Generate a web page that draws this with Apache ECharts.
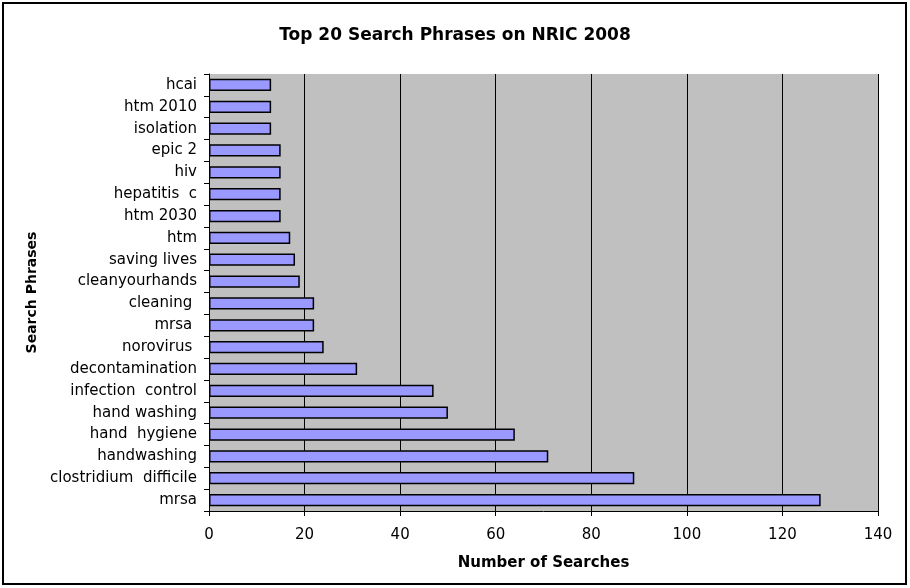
<!DOCTYPE html>
<html>
<head>
<meta charset="utf-8">
<script src="https://cdn.jsdelivr.net/npm/echarts@6/dist/echarts.min.js"></script>
<style>
  html, body { margin: 0; padding: 0; background: #fff; }
  #chart { width: 910px; height: 588px; }
</style>
</head>
<body>
<div id="chart"></div>
<script>
// categories listed bottom -> top, as the axis draws them
const phrases = [
    'mrsa', 'clostridium  difficile', 'handwashing', 'hand  hygiene', 'hand washing',
    'infection  control', 'decontamination', 'norovirus ', 'mrsa ', 'cleaning ',
    'cleanyourhands', 'saving lives', 'htm', 'htm 2030', 'hepatitis  c',
    'hiv', 'epic 2', 'isolation', 'htm 2010', 'hcai'
];
const searches = [128, 89, 71, 64, 50, 47, 31, 24, 22, 22, 19, 18, 17, 15, 15, 15, 15, 13, 13, 13];
const xTicks = [0, 20, 40, 60, 80, 100, 120, 140];

const FONT = 'DejaVu Sans';

const myChart = echarts.init(document.getElementById('chart'));

const option = {
    animation: false,
    backgroundColor: '#fff',
    title: {
        text: 'Top 20 Search Phrases on NRIC 2008',
        left: 'center',
        top: 22,
        textStyle: {
            fontFamily: FONT,
            fontSize: 17,
            fontWeight: 'bold',
            color: '#000'
        }
    },
    graphic: [
        {
            type: 'rect',
            shape: { x: 3, y: 3, width: 903, height: 581 },
            style: { fill: 'none', stroke: '#000', lineWidth: 2 },
            z: 100
        }
    ],
    grid: {
        left: 209,
        right: 32,
        top: 74,
        bottom: 77,
        show: true,
        backgroundColor: '#C0C0C0',
        borderWidth: 0
    },
    xAxis: {
        type: 'value',
        min: xTicks[0],
        max: xTicks[xTicks.length - 1],
        interval: 20,
        name: 'Number of Searches',
        nameLocation: 'middle',
        nameGap: 45,
        nameTextStyle: {
            fontFamily: FONT,
            fontSize: 15,
            fontWeight: 'bold',
            color: '#000'
        },
        axisLine: { show: true, lineStyle: { color: '#000', width: 1 } },
        axisTick: { show: true, length: 5, lineStyle: { color: '#000' } },
        axisLabel: {
            margin: 17,
            fontFamily: FONT,
            fontSize: 15,
            color: '#000'
        },
        splitLine: { show: true, lineStyle: { color: '#000', width: 1 } }
    },
    yAxis: {
        type: 'category',
        data: phrases,
        name: 'Search Phrases',
        nameLocation: 'middle',
        nameGap: 166,
        nameRotate: 90,
        nameTextStyle: {
            fontFamily: FONT,
            fontSize: 14,
            fontWeight: 'bold',
            color: '#000'
        },
        axisLine: { show: true, lineStyle: { color: '#000', width: 1 } },
        axisTick: { show: true, length: 5, lineStyle: { color: '#000' } },
        axisLabel: {
            margin: 12,
            fontFamily: FONT,
            fontSize: 15,
            color: '#000'
        },
        splitLine: { show: false }
    },
    series: [
        {
            type: 'bar',
            data: searches,
            barCategoryGap: '44%',
            itemStyle: {
                color: '#9999FF',
                borderColor: '#000',
                borderWidth: 1.5
            }
        }
    ]
};

myChart.setOption(option);
</script>
</body>
</html>
